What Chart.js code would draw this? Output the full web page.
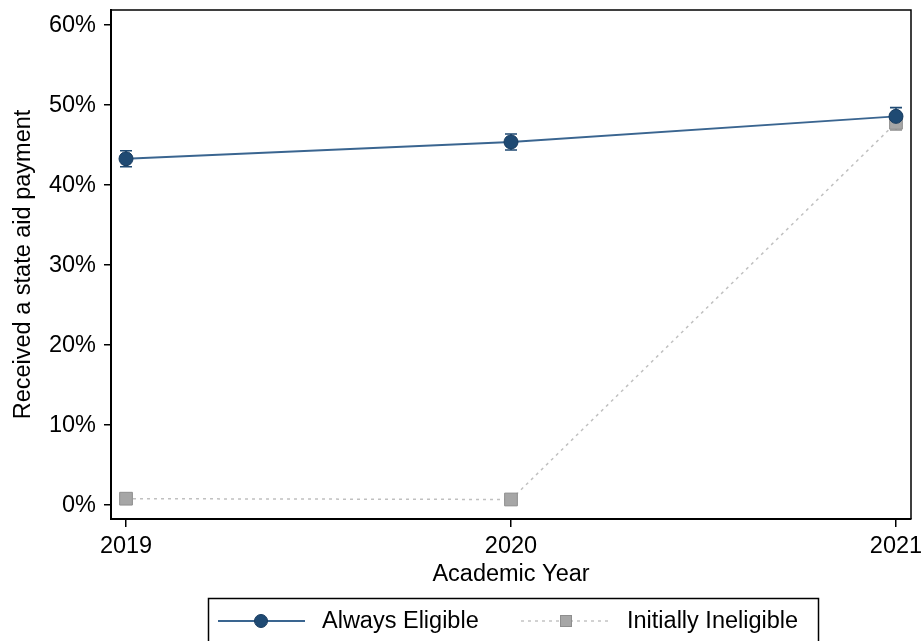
<!DOCTYPE html>
<html>
<head>
<meta charset="utf-8">
<script src="https://cdn.jsdelivr.net/npm/chart.js@4/dist/chart.umd.min.js"></script>
<style>
  html, body { margin: 0; padding: 0; background: #ffffff; }
  #wrap { width: 924px; height: 641px; }
</style>
</head>
<body>
<div id="wrap"><canvas id="c" width="924" height="641"></canvas></div>
<script>
// ---- data ----
const years = [2019, 2020, 2021];
const alwaysEligible = [43.3, 45.4, 48.6];
const alwaysEligibleLow = [42.3, 44.4, 47.5];
const alwaysEligibleHigh = [44.3, 46.4, 49.7];
const initiallyIneligible = [0.8, 0.7, 47.8];
const initiallyIneligibleLow = [0.5, 0.4, 46.9];
const initiallyIneligibleHigh = [1.1, 1.0, 48.7];
const yTickValues = [0, 10, 20, 30, 40, 50, 60];
const seriesNames = ['Always Eligible', 'Initially Ineligible'];
const xTitle = 'Academic Year';
const yTitle = 'Received a state aid payment';

const FONT = '"Liberation Sans", Arial, Helvetica, sans-serif';
const FS = 23.5;
const NAVY = '#1f4a73';
const NAVY_LINE = '#3a6590';
const GRAY = '#a6a6a6';
const GRAY_DARK = '#8e8e8e';

const errorBars = {
  id: 'errorBars',
  beforeDatasetsDraw(chart) {
    const ctx = chart.ctx;
    const xs = chart.scales.x, ys = chart.scales.y;
    const sets = [
      {lo: initiallyIneligibleLow, hi: initiallyIneligibleHigh, color: GRAY_DARK},
      {lo: alwaysEligibleLow, hi: alwaysEligibleHigh, color: NAVY}
    ];
    ctx.save();
    sets.forEach(s => {
      ctx.strokeStyle = s.color;
      ctx.lineWidth = 1.6;
      years.forEach((yr, i) => {
        const x = xs.getPixelForValue(yr);
        const y1 = ys.getPixelForValue(s.lo[i]);
        const y2 = ys.getPixelForValue(s.hi[i]);
        ctx.beginPath();
        ctx.moveTo(x, y1); ctx.lineTo(x, y2);
        ctx.moveTo(x - 6, y1); ctx.lineTo(x + 6, y1);
        ctx.moveTo(x - 6, y2); ctx.lineTo(x + 6, y2);
        ctx.stroke();
      });
    });
    ctx.restore();
  }
};

const frameAndLegend = {
  id: 'frameAndLegend',
  afterDraw(chart) {
    const ctx = chart.ctx;
    const a = chart.chartArea;
    ctx.save();
    ctx.strokeStyle = '#000';
    ctx.lineWidth = 1.5;
    ctx.beginPath();
    ctx.moveTo(a.left, a.top); ctx.lineTo(a.right, a.top); ctx.lineTo(a.right, a.bottom);
    ctx.stroke();

    // legend box
    ctx.strokeRect(208.5, 598.5, 610, 60);
    const ly = 621;
    ctx.strokeStyle = NAVY_LINE;
    ctx.lineWidth = 2;
    ctx.beginPath(); ctx.moveTo(218, ly); ctx.lineTo(305, ly); ctx.stroke();
    ctx.fillStyle = NAVY;
    ctx.beginPath(); ctx.arc(261, ly, 6.5, 0, Math.PI * 2); ctx.fill();
    ctx.strokeStyle = '#183c60'; ctx.lineWidth = 1; ctx.stroke();
    ctx.strokeStyle = '#c4c4c4';
    ctx.lineWidth = 1.5;
    ctx.setLineDash([3, 4]);
    ctx.beginPath(); ctx.moveTo(521, ly); ctx.lineTo(610, ly); ctx.stroke();
    ctx.setLineDash([]);
    ctx.fillStyle = GRAY;
    ctx.fillRect(560, ly - 6, 12, 12);
    ctx.strokeStyle = GRAY_DARK; ctx.lineWidth = 1;
    ctx.strokeRect(560.5, ly - 5.5, 11, 11);
    ctx.fillStyle = '#000';
    ctx.font = FS + 'px ' + FONT;
    ctx.textBaseline = 'middle';
    ctx.textAlign = 'left';
    ctx.fillText(seriesNames[0], 322, ly + 1);
    ctx.fillText(seriesNames[1], 627, ly + 1);
    ctx.restore();
  }
};

new Chart(document.getElementById('c'), {
  type: 'line',
  data: {
    datasets: [
      {
        label: seriesNames[0],
        data: years.map((y, i) => ({x: y, y: alwaysEligible[i]})),
        borderColor: NAVY_LINE,
        borderWidth: 2,
        backgroundColor: NAVY,
        pointBackgroundColor: NAVY,
        pointBorderColor: '#183c60',
        pointBorderWidth: 1,
        pointStyle: 'circle',
        pointRadius: 7,
        tension: 0
      },
      {
        label: seriesNames[1],
        data: years.map((y, i) => ({x: y, y: initiallyIneligible[i]})),
        borderColor: '#c0c0c0',
        borderWidth: 1.5,
        borderDash: [3, 4],
        backgroundColor: GRAY,
        pointBackgroundColor: GRAY,
        pointBorderColor: GRAY_DARK,
        pointBorderWidth: 1,
        pointStyle: 'rect',
        pointRadius: 9,
        tension: 0
      }
    ]
  },
  options: {
    responsive: false,
    animation: false,
    devicePixelRatio: 1,
    layout: { padding: { left: 0, top: 8, right: 13, bottom: 52 } },
    plugins: { legend: { display: false }, tooltip: { enabled: false } },
    scales: {
      x: {
        type: 'linear',
        min: 2018.961,
        max: 2021.039,
        afterBuildTicks: s => { s.ticks = years.map(v => ({value: v})); },
        afterFit: s => { s.height = 70; s.paddingLeft = 0; s.paddingRight = 0; },
        ticks: {
          callback: v => String(v),
          color: '#000',
          font: { family: FONT, size: FS },
          padding: 5,
          maxRotation: 0,
          autoSkip: false
        },
        grid: { drawOnChartArea: false, drawTicks: true, tickLength: 8, color: '#000', lineWidth: 1.5 },
        border: { display: true, color: '#000', width: 2 },
        title: { display: true, text: xTitle, color: '#000', font: { family: FONT, size: FS }, padding: { top: 4, bottom: 0 } }
      },
      y: {
        type: 'linear',
        min: -1.74,
        max: 61.9,
        afterBuildTicks: s => { s.ticks = yTickValues.map(v => ({value: v})); },
        afterFit: s => { s.width = 111; s.paddingTop = 0; s.paddingBottom = 0; },
        ticks: {
          callback: v => v + '%',
          color: '#000',
          font: { family: FONT, size: FS },
          padding: 8
        },
        grid: { drawOnChartArea: false, drawTicks: true, tickLength: 7, color: '#000', lineWidth: 1.5 },
        border: { display: true, color: '#000', width: 2 },
        title: { display: true, text: yTitle, color: '#000', font: { family: FONT, size: FS }, padding: { top: 9, bottom: 0 } }
      }
    }
  },
  plugins: [errorBars, frameAndLegend]
});
</script>
</body>
</html>
